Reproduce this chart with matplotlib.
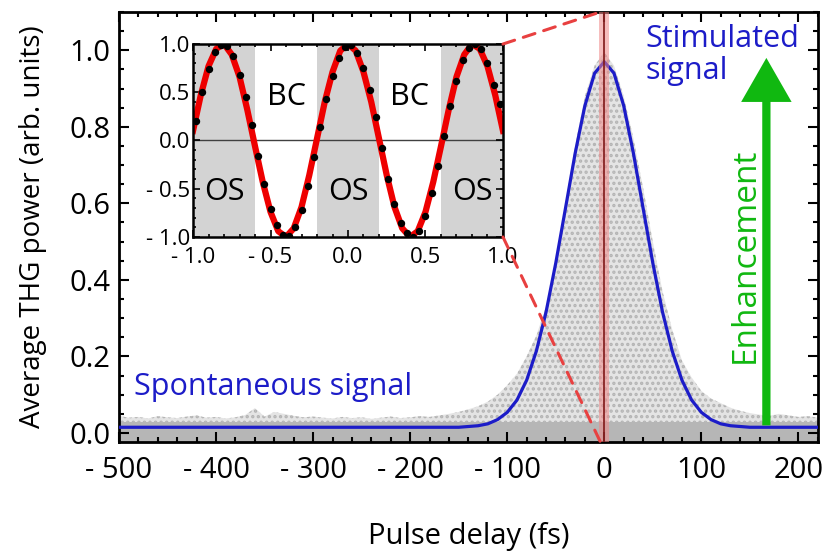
import matplotlib
matplotlib.use("Agg")
import matplotlib.pyplot as plt
from matplotlib.patches import ConnectionPatch
from matplotlib.ticker import MultipleLocator

plt.rcParams["font.family"] = ["Open Sans", "DejaVu Sans"]
plt.rcParams["hatch.linewidth"] = 1.6

# main panel: measured THG power vs pulse delay (upper edge of the point cloud)
delay = list(range(-500, 230, 10))
cloud_top = [0.045, 0.040, 0.042, 0.038, 0.044, 0.041, 0.039, 0.043, 0.046, 0.040,
             0.042, 0.038, 0.041, 0.047, 0.065, 0.043, 0.055, 0.050, 0.045, 0.041,
             0.043, 0.040, 0.038, 0.042, 0.039, 0.041, 0.037, 0.040, 0.043, 0.039,
             0.041, 0.044, 0.042, 0.046, 0.050, 0.055, 0.062, 0.070, 0.082, 0.100,
             0.125, 0.155, 0.200, 0.255, 0.330, 0.430, 0.600, 0.750, 0.880, 0.960,
             0.995, 0.960, 0.880, 0.770, 0.640, 0.500, 0.370, 0.270, 0.190, 0.145,
             0.110, 0.090, 0.078, 0.066, 0.058, 0.052, 0.048, 0.045, 0.050, 0.046,
             0.042, 0.044, 0.040]

# gaussian fit (stimulated signal)
fit_delay = [-500, -150, -140, -130, -120, -110, -100, -90, -80, -70, -60, -50, -40,
             -30, -20, -10, 0, 10, 20, 30, 40, 50, 60, 70, 80, 90, 100, 110, 120,
             130, 140, 150, 220]
fit_power = [0.015, 0.015, 0.017, 0.019, 0.024, 0.035, 0.054, 0.086, 0.138, 0.214,
             0.316, 0.444, 0.587, 0.731, 0.855, 0.940, 0.970, 0.940, 0.855, 0.731,
             0.587, 0.444, 0.316, 0.214, 0.138, 0.086, 0.054, 0.035, 0.024, 0.019,
             0.017, 0.015, 0.015]

xticks = [-500, -400, -300, -200, -100, 0, 100, 200]
xticklabels = ["- 500", "- 400", "- 300", "- 200", "- 100", "0", "100", "200"]
yticks = [0.0, 0.2, 0.4, 0.6, 0.8, 1.0]
yticklabels = ["0.0", "0.2", "0.4", "0.6", "0.8", "1.0"]

# inset: zoom around zero delay
phase = [-1.00, -0.95, -0.90, -0.85, -0.80, -0.75, -0.70, -0.65, -0.60, -0.55,
         -0.50, -0.45, -0.40, -0.35, -0.30, -0.25, -0.20, -0.15, -0.10, -0.05,
         0.00, 0.05, 0.10, 0.15, 0.20, 0.25, 0.30, 0.35, 0.40, 0.45,
         0.50, 0.55, 0.60, 0.65, 0.70, 0.75, 0.80, 0.85, 0.90, 0.95, 1.00]
fringe = [0.10, 0.47, 0.77, 0.95, 1.00, 0.89, 0.66, 0.32, -0.06, -0.43,
          -0.74, -0.94, -1.00, -0.91, -0.69, -0.36, 0.02, 0.40, 0.71, 0.93,
          1.00, 0.93, 0.71, 0.40, 0.02, -0.36, -0.69, -0.91, -1.00, -0.94,
          -0.74, -0.43, -0.06, 0.32, 0.66, 0.89, 1.00, 0.95, 0.77, 0.47, 0.10]
dot_phase = [-0.98, -0.94, -0.90, -0.86, -0.82, -0.78, -0.74, -0.70, -0.66, -0.62,
             -0.58, -0.54, -0.50, -0.46, -0.42, -0.38, -0.34, -0.30, -0.26, -0.22,
             -0.18, -0.14, -0.10, -0.06, -0.02, 0.02, 0.06, 0.10, 0.14, 0.18,
             0.22, 0.26, 0.30, 0.34, 0.38, 0.42, 0.46, 0.50, 0.54, 0.58,
             0.62, 0.66, 0.70, 0.74, 0.78, 0.82, 0.86, 0.90, 0.94, 0.98]
dot_value = [0.20, 0.50, 0.74, 0.92, 0.99, 0.98, 0.88, 0.68, 0.45, 0.16,
             -0.16, -0.45, -0.71, -0.88, -0.98, -0.99, -0.90, -0.72, -0.47, -0.17,
             0.14, 0.43, 0.67, 0.86, 0.97, 0.99, 0.91, 0.75, 0.52, 0.24,
             -0.08, -0.40, -0.66, -0.85, -0.96, -1.00, -0.94, -0.78, -0.54, -0.26,
             0.05, 0.36, 0.62, 0.83, 0.96, 1.00, 0.95, 0.80, 0.58, 0.38]
os_start = [-1.0, -0.2, 0.6]
os_end = [-0.6, 0.2, 1.0]
inset_ticks = [-1.0, -0.5, 0.0, 0.5, 1.0]
inset_ticklabels = ["- 1.0", "- 0.5", "0.0", "0.5", "1.0"]

blue = "#1c1cc8"
green = "#10b810"

fig = plt.figure(figsize=(8.27, 5.55), dpi=100)
ax = fig.add_axes([0.1439, 0.2036, 0.845, 0.7748])

ax.fill_between(delay, -0.03, cloud_top, facecolor="#e4e4e4", edgecolor="#b4b4b4",
                hatch="...", lw=0, zorder=1)
ax.fill_between(delay, -0.03, 0.03, color="#b6b6b6", lw=0, zorder=1)
ax.plot(fit_delay, fit_power, color=blue, lw=2.3, zorder=3)
ax.axvspan(-5, 5, color="#f08888", alpha=0.55, lw=0, zorder=4)
ax.axvline(0, color="#801818", lw=1.2, zorder=5)

ax.arrow(167, 0.02, 0, 0.96, width=8.5, head_width=52, head_length=0.115,
         length_includes_head=True, color=green, lw=0, zorder=6)
ax.text(145, 0.465, "Enhancement", color=green, fontsize=24, rotation=90,
        ha="center", va="center")
ax.text(42, 1.068, "Stimulated\nsignal", color=blue, fontsize=22, ha="left",
        va="top", linespacing=1.08)
ax.text(-485, 0.10, "Spontaneous signal", color=blue, fontsize=22, ha="left",
        va="baseline")

ax.set_xlim(-500, 220)
ax.set_ylim(-0.0235, 1.1)
ax.set_xticks(xticks)
ax.set_xticklabels(xticklabels)
ax.set_yticks(yticks)
ax.set_yticklabels(yticklabels)
ax.xaxis.set_minor_locator(MultipleLocator(20))
ax.yaxis.set_minor_locator(MultipleLocator(0.05))
ax.tick_params(which="both", direction="in", top=True, right=True, width=1.5)
ax.tick_params(which="major", length=7, labelsize=21)
ax.tick_params(axis="x", which="major", pad=10)
ax.tick_params(axis="y", which="major", pad=6)
ax.tick_params(which="minor", length=3.5)
for s in ax.spines.values():
    s.set_linewidth(2)
ax.set_xlabel("Pulse delay (fs)", fontsize=21, labelpad=27)
ax.set_ylabel("Average THG power (arb. units)", fontsize=20, labelpad=16)

# inset
ins = fig.add_axes([0.2334, 0.573, 0.3748, 0.3477])
for a, b in zip(os_start, os_end):
    ins.axvspan(a, b, color="#d3d3d3", lw=0, zorder=0)
ins.axhline(0, color="#404040", lw=1, zorder=1)
ins.plot(phase, fringe, color="#ee0000", lw=4.5, zorder=2)
ins.plot(dot_phase, dot_value, "o", color="black", ms=4.3, zorder=3)
for xb in [-0.4, 0.4]:
    ins.text(xb, 0.45, "BC", fontsize=22, ha="center", va="center")
for xo in [-0.8, 0.0, 0.8]:
    ins.text(xo, -0.53, "OS", fontsize=22, ha="center", va="center")
ins.set_xlim(-1, 1)
ins.set_ylim(-1, 1)
ins.set_xticks(inset_ticks)
ins.set_xticklabels(inset_ticklabels)
ins.set_yticks(inset_ticks)
ins.set_yticklabels(inset_ticklabels)
ins.xaxis.set_minor_locator(MultipleLocator(0.1))
ins.yaxis.set_minor_locator(MultipleLocator(0.1))
ins.tick_params(which="both", direction="in", top=True, right=True, width=1.2)
ins.tick_params(which="major", length=5, labelsize=16)
ins.tick_params(axis="x", which="major", pad=7)
ins.tick_params(axis="y", which="major", pad=2)
ins.tick_params(which="minor", length=2.5)
for s in ins.spines.values():
    s.set_linewidth(1.8)

for yi, ym in [(1, 1.1), (0, -0.0235)]:
    con = ConnectionPatch(xyA=(1, yi), coordsA=ins.transAxes, xyB=(-4, ym),
                          coordsB=ax.transData, color="#e84040", lw=2.2,
                          linestyle=(0, (4, 3)), zorder=7)
    fig.add_artist(con)

fig.savefig("out.png", dpi=100)
